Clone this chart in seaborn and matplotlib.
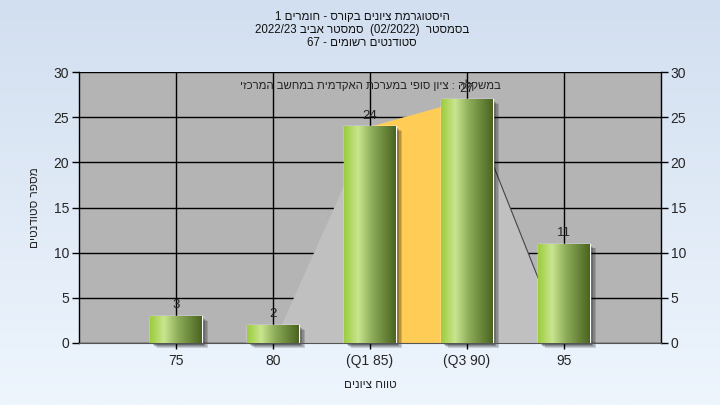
import re
import numpy as np
import pandas as pd
import seaborn as sns
import matplotlib.pyplot as plt
import matplotlib.transforms as mtransforms
from matplotlib.colors import LinearSegmentedColormap
from matplotlib.patches import Rectangle

# data
categories = ['75', '80', '(Q1 85)', '(Q3 90)', '95']
counts = [3, 2, 24, 27, 11]
# frequency polygon drawn behind the bars (nan = not drawn)
curve = [np.nan, 0, 24, 27, 0]
iqr_idx = [2, 3]  # Q1..Q3 filled orange
yticks = [0, 5, 10, 15, 20, 25, 30]

title_lines = ['היסטוגרמת ציונים בקורס - חומרים 1',
               'בסמסטר  (02/2022)  סמסטר אביב 2022/23',
               'סטודנטים רשומים - 67']
inner_text = 'במשקלה : ציון סופי במערכת האקדמית במחשב המרכזי'
xlabel = 'טווח ציונים'
ylabel = 'מספר סטודנטים'


def visual(s):
    # crude rtl -> visual order for matplotlib (no bidi support)
    r = s[::-1]
    r = re.sub(r'[0-9A-Za-z][0-9A-Za-z/.]*', lambda m: m.group(0)[::-1], r)
    return r.translate(str.maketrans('()', ')('))


sns.set_style('white')
plt.rcParams['font.family'] = ['Liberation Sans', 'DejaVu Sans']

fig = plt.figure(figsize=(7.2, 4.05), dpi=100)

# background gradient
bg = fig.add_axes([0, 0, 1, 1], zorder=-10)
bg_cmap = LinearSegmentedColormap.from_list('bg', ['#d2dff0', '#eef5fd'])
bg.imshow(np.linspace(0, 1, 256).reshape(-1, 1), aspect='auto', cmap=bg_cmap,
          extent=(0, 1, 0, 1))
bg.set_axis_off()

ax = fig.add_axes([0.1097, 0.1531, 0.8083, 0.6691])
ax.set_facecolor('#b4b4b4')

df = pd.DataFrame({'range': categories, 'count': counts})
sns.barplot(data=df, x='range', y='count', width=0.53, color='#9ccc3c',
            ax=ax, zorder=3)

xs = np.arange(len(categories))
ax.set_xlim(-1, len(categories))
ax.set_ylim(0, 30)

# grid
for y in yticks:
    ax.axhline(y, color='black', lw=1, zorder=0.5)
for x in xs:
    ax.axvline(x, color='black', lw=1, zorder=0.5)

# polygon + IQR area
ax.fill_between(xs, curve, color='#c0c0c0', zorder=1, lw=0)
ax.fill_between(xs[iqr_idx[0]:iqr_idx[1] + 1], curve[iqr_idx[0]:iqr_idx[1] + 1],
                color='#ffcc55', zorder=1.1, lw=0)
ax.plot(xs[iqr_idx[1]:], curve[iqr_idx[1]:], color='#444444', lw=0.8, zorder=1.2)

# bars: shadow + gradient
bar_cmap = LinearSegmentedColormap.from_list(
    'bar', [(0, '#9ccc3c'), (0.27, '#c9e58f'), (0.55, '#8cab58'), (1, '#4a6420')])
grad = np.linspace(0, 1, 256).reshape(1, -1)
for p in ax.patches:
    x0, y0, w, h = p.get_x(), p.get_y(), p.get_width(), p.get_height()
    for i, a in enumerate([0.15, 0.15, 0.2, 0.25]):
        off = mtransforms.offset_copy(ax.transData, fig=fig, x=4.5 - i * 0.9,
                                      y=-3.5 + i * 0.7, units='points')
        ax.add_patch(Rectangle((x0, y0), w, h, transform=off, color='black',
                               alpha=a, lw=0, zorder=2, clip_on=False))
    im = ax.imshow(grad, aspect='auto', cmap=bar_cmap,
                   extent=(x0, x0 + w, y0, y0 + h), zorder=3)
    im.set_clip_path(p)
    p.set_facecolor('none')
    ax.text(x0 + w / 2, y0 + h + 0.5, str(int(h)), ha='center', va='bottom',
            fontsize=9.5, color='#222222', zorder=5)

ax.set_xlim(-1, len(categories))
ax.set_ylim(0, 30)
ax.set_yticks(yticks)
ax.set_xticks(xs)
ax.set_xticklabels(categories)
ax.tick_params(axis='y', which='both', left=True, right=True, labelright=True,
               length=5, width=1, color='black', labelsize=10, pad=2)
ax.tick_params(axis='x', bottom=True, length=4, width=1, color='black',
               labelsize=10, pad=4)
for side in ['left', 'right']:
    ax.spines[side].set_color('black')
    ax.spines[side].set_linewidth(1)
ax.spines['bottom'].set_color('#555555')
ax.spines['top'].set_visible(False)

ax.set_xlabel(visual(xlabel), fontsize=8.5, labelpad=8)
ax.set_ylabel(visual(ylabel), fontsize=8.5, labelpad=9)

ax.text(0.5, 0.95, visual(inner_text), transform=ax.transAxes, ha='center',
        va='center', fontsize=8.2, color='#222222', zorder=6)

for i, line in enumerate(title_lines):
    fig.text(0.503, 1 - (17 + 13 * i) / 405, visual(line), ha='center',
             va='center', fontsize=8.3, color='#111111')

fig.savefig('out.png', dpi=100)
